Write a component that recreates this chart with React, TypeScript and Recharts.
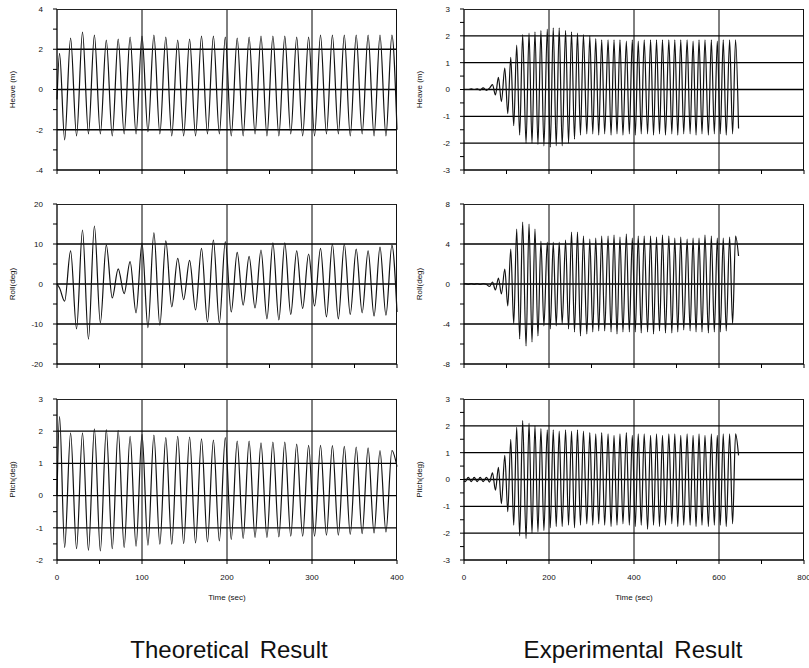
import React from 'react'
import { LineChart, Line, XAxis, YAxis, ReferenceLine } from 'recharts'

// extrema times (sec)
const theoTime = [0, 3, 9, 16, 23, 30, 37, 44, 51, 58, 65, 72, 79, 86, 93, 100, 107, 114, 121, 128, 135, 142, 149, 156, 163, 170, 177, 184, 191, 198, 205, 212, 219, 226, 233, 240, 247, 254, 261, 268, 275, 282, 289, 296, 303, 310, 317, 324, 331, 338, 345, 352, 359, 366, 373, 380, 387, 394, 400]

const theoHeave = [-0.5, 1.8,
  -2.5, 2.55, -2.3, 2.85, -2.2, 2.7, -2.2, 2.45, -2.3, 2.5, -2.2, 2.6, -2.2, 2.65, -2.1, 2.7, -2.2, 2.6,
  -2.3, 2.45, -2.3, 2.5, -2.3, 2.65, -2.2, 2.65, -2.2, 2.6, -2.3, 2.55, -2.3, 2.6, -2.2, 2.65, -2.3, 2.65,
  -2.3, 2.65, -2.2, 2.6, -2.3, 2.6, -2.3, 2.7, -2.2, 2.7, -2.2, 2.7, -2.3, 2.7, -2.2, 2.7, -2.3, 2.7, -2.3, 2.7,
  -2.0]

const theoRoll = [0, -1,
  -4.3, 8.3, -11.2, 13.5, -13.8, 14.5, -9.7, 9.8, -3.5, 3.8, -2.4, 5.6, -7.2, 10.2, -10.9, 12.8, -10.3, 10.8,
  -5.7, 6.4, -3.9, 5.9, -6.5, 8.9, -9.5, 11, -9.7, 10.6, -7, 7.9, -5.3, 6.9, -6, 8.5, -8.7, 10.3,
  -9, 10.3, -7.6, 8.3, -6.1, 7.5, -5.5, 8.9, -8.2, 10, -8.7, 10, -7.6, 8.7, -7.2, 8.3, -8, 9.2, -7.8, 9.7,
  -7]

const theoPitch = [0, 2.45,
  -1.61, 1.95, -1.65, 1.95, -1.7, 2.07, -1.72, 2.05, -1.65, 2.03, -1.61, 1.84, -1.57, 1.9, -1.54, 1.88, -1.51, 1.8,
  -1.51, 1.84, -1.49, 1.82, -1.47, 1.76, -1.44, 1.72, -1.41, 1.8, -1.36, 1.69, -1.33, 1.69, -1.3, 1.64, -1.3, 1.66,
  -1.28, 1.66, -1.26, 1.6, -1.26, 1.56, -1.26, 1.56, -1.23, 1.55, -1.23, 1.53, -1.2, 1.51, -1.18, 1.48, -1.16, 1.4, -1.13, 1.4,
  0.9]

// extrema times (sec)
const expTime = [0, 3, 10, 17, 24, 31, 38, 45, 53, 60, 67,
  74, 81, 88, 96, 103, 110, 117, 124, 131, 138, 146, 153, 160, 167, 174, 181, 188, 196, 203, 210,
  217, 224, 231, 239, 246, 253, 260, 267, 274, 281, 289, 296, 303, 310, 317, 324, 331, 339, 346, 353,
  360, 367, 374, 382, 389, 396, 403, 410, 417, 424, 432, 439, 446, 453, 460, 467, 474, 482, 489, 496,
  503, 510, 517, 525, 532, 539, 546, 553, 560, 567, 575, 582, 589, 596, 603, 610, 617, 625, 632, 639, 646]

const expHeave = [0, 0, 0, 0.02, 0, 0.02, -0.02, 0.06, -0.03, 0.05, 0.18,
  -0.2, 0.45, -0.45, 0.8, -0.9, 1.2, -1.35, 1.65, -1.7, 2.05, -2.0, 2.1, -2.0, 2.15, -2.05, 2.2, -2.1, 2.25, -2.15, 2.3,
  -2.1, 2.3, -2.1, 2.2, -2.0, 2.15, -1.85, 2.1, -1.7, 2.05, -1.65, 2.0, -1.65, 1.9, -1.7, 1.85, -1.65, 1.85, -1.7, 1.85,
  -1.65, 1.85, -1.7, 1.8, -1.65, 1.85, -1.7, 1.8, -1.65, 1.85, -1.65, 1.85, -1.7, 1.85, -1.65, 1.85, -1.7, 1.85, -1.65, 1.85,
  -1.7, 1.85, -1.65, 1.85, -1.65, 1.8, -1.7, 1.85, -1.65, 1.85, -1.7, 1.85, -1.65, 1.8, -1.65, 1.85, -1.7, 1.85, -1.65, 1.85, -1.45]

const expRoll = [0, 0.05, -0.03, 0.05, -0.03, 0.05, -0.05, 0.05, -0.05, -0.25, 0.2,
  -0.6, 0.6, -1.0, 1.5, -2.2, 3.5, -4.0, 5.5, -5.5, 6.2, -6.2, 6.0, -5.8, 5.5, -5.2, 4.3, -4.2, 4.2, -4.5, 4.2,
  -4.2, 4.2, -4.0, 4.4, -4.5, 5.2, -4.8, 5.2, -5.2, 4.8, -5.0, 4.5, -4.8, 4.6, -4.7, 4.8, -4.7, 4.8, -4.8, 4.9,
  -5.0, 4.7, -4.8, 5.0, -4.8, 4.6, -4.8, 4.8, -4.9, 4.8, -4.8, 4.8, -5.0, 4.7, -4.7, 4.9, -4.9, 4.8, -4.9, 4.6,
  -4.8, 4.7, -4.6, 4.5, -4.7, 4.6, -4.8, 4.6, -4.8, 4.9, -4.9, 4.8, -4.8, 4.6, -4.8, 4.6, -4.7, 4.7, -4.0, 4.8, 2.8]

const expPitch = [-0.05, -0.08, 0.08, -0.08, 0.08, -0.08, 0.08, -0.08, 0.08, -0.1, 0.25,
  -0.4, 0.45, -0.9, 0.9, -1.2, 1.5, -1.7, 1.95, -2.1, 2.2, -2.2, 2.1, -2.0, 2.0, -1.95, 1.9, -1.9, 1.85, -1.8, 1.85,
  -1.75, 1.8, -1.75, 1.85, -1.7, 1.8, -1.8, 1.85, -1.7, 1.8, -1.65, 1.75, -1.7, 1.7, -1.65, 1.75, -1.7, 1.7, -1.75, 1.65,
  -1.7, 1.7, -1.65, 1.75, -1.7, 1.65, -1.75, 1.7, -1.7, 1.7, -1.85, 1.65, -1.7, 1.7, -1.75, 1.65, -1.7, 1.7, -1.65, 1.7,
  -1.75, 1.65, -1.7, 1.7, -1.7, 1.65, -1.75, 1.7, -1.7, 1.65, -1.75, 1.7, -1.7, 1.65, -1.7, 1.7, -1.75, 1.7, -1.65, 1.7, 0.9]

// axis ticks
const theoXTicks = [0, 50, 100, 150, 200, 250, 300, 350, 400]
const theoXMajor = [0, 100, 200, 300, 400]
const expXTicks = [0, 100, 200, 300, 400, 500, 600, 700, 800]
const expXMajor = [0, 200, 400, 600, 800]

const heaveTheoTicks = [-4, -3, -2, -1, 0, 1, 2, 3, 4]
const heaveTheoMajor = [-4, -2, 0, 2, 4]
const heaveExpTicks = [-3, -2.5, -2, -1.5, -1, -0.5, 0, 0.5, 1, 1.5, 2, 2.5, 3]
const heaveExpMajor = [-3, -2, -1, 0, 1, 2, 3]
const rollTheoTicks = [-20, -15, -10, -5, 0, 5, 10, 15, 20]
const rollTheoMajor = [-20, -10, 0, 10, 20]
const rollExpTicks = [-8, -6, -4, -2, 0, 2, 4, 6, 8]
const rollExpMajor = [-8, -4, 0, 4, 8]
const pitchTheoTicks = [-2, -1.5, -1, -0.5, 0, 0.5, 1, 1.5, 2, 2.5, 3]
const pitchTheoMajor = [-2, -1, 0, 1, 2, 3]
const pitchExpTicks = [-3, -2.5, -2, -1.5, -1, -0.5, 0, 0.5, 1, 1.5, 2, 2.5, 3]
const pitchExpMajor = [-3, -2, -1, 0, 1, 2, 3]

const tickStyle = { fontSize: 8, fill: '#111' }

interface PanelProps {
  left: number
  top: number
  plotHeight: number
  rightMargin: number
  time: number[]
  values: number[]
  xTicks: number[]
  xMajor: number[]
  yTicks: number[]
  yMajor: number[]
  yLabel: string
  showX: boolean
}

function Panel({ left, top, plotHeight, rightMargin, time, values, xTicks, xMajor, yTicks, yMajor, yLabel, showX }: PanelProps) {
  const data = time.map((t, i) => ({ t, v: values[i] }))
  const xAxisHeight = showX ? 48 : 20
  const xMax = xTicks[xTicks.length - 1]
  const yMin = yTicks[0]
  const yMax = yTicks[yTicks.length - 1]

  return (
    <div style={{ position: 'absolute', left, top }}>
      <LineChart
        width={14 + 43 + 340 + rightMargin}
        height={5 + plotHeight + xAxisHeight}
        data={data}
        margin={{ top: 5, right: rightMargin, bottom: 0, left: 14 }}
      >
        <XAxis
          type="number"
          dataKey="t"
          domain={[0, xMax]}
          ticks={xTicks}
          interval={0}
          height={xAxisHeight}
          tickSize={4}
          tickMargin={10}
          tick={tickStyle}
          tickFormatter={(v: number) => (showX && xMajor.includes(v) ? String(v) : '')}
          axisLine={{ stroke: '#000', strokeWidth: 1.3 }}
          tickLine={{ stroke: '#000' }}
          label={showX ? { value: 'Time (sec)', position: 'insideBottom', offset: 8, style: { fontSize: 8, fill: '#111' } } : undefined}
        />
        <YAxis
          type="number"
          domain={[yMin, yMax]}
          ticks={yTicks}
          interval={0}
          width={43}
          tickSize={4}
          tickMargin={10}
          tick={tickStyle}
          tickFormatter={(v: number) => (yMajor.includes(v) ? String(v) : '')}
          axisLine={{ stroke: '#000', strokeWidth: 1.3 }}
          tickLine={{ stroke: '#000' }}
          label={{ value: yLabel, angle: -90, position: 'insideLeft', offset: -2, style: { textAnchor: 'middle', fontSize: 8, fill: '#111' } }}
        />
        {yMajor.filter((v) => v > yMin && v < yMax).map((v) => (
          <ReferenceLine key={'y' + v} y={v} stroke="#000" strokeWidth={1.3} />
        ))}
        {xMajor.filter((v) => v > 0 && v < xMax).map((v) => (
          <ReferenceLine key={'x' + v} x={v} stroke="#000" strokeWidth={1} />
        ))}
        <Line
          type="monotone"
          dataKey="v"
          stroke="#111"
          strokeWidth={1.2}
          dot={false}
          isAnimationActive={false}
        />
      </LineChart>
      {/* plot frame: top and right edges */}
      <div style={{ position: 'absolute', left: 57, top: 5, width: 340, height: plotHeight, boxSizing: 'border-box', borderTop: '1px solid #222', borderRight: '1px solid #111', pointerEvents: 'none' }} />
    </div>
  )
}

export default function App() {
  return (
    <div style={{ position: 'absolute', left: 0, top: 0, width: 809, height: 668, background: '#fff', fontFamily: '"Liberation Sans", Arial, sans-serif' }}>
      <Panel left={0} top={4} plotHeight={161} rightMargin={10} time={theoTime} values={theoHeave}
        xTicks={theoXTicks} xMajor={theoXMajor} yTicks={heaveTheoTicks} yMajor={heaveTheoMajor} yLabel="Heave (m)" showX={false} />
      <Panel left={407} top={4} plotHeight={161} rightMargin={5} time={expTime} values={expHeave}
        xTicks={expXTicks} xMajor={expXMajor} yTicks={heaveExpTicks} yMajor={heaveExpMajor} yLabel="Heave (m)" showX={false} />
      <Panel left={0} top={199} plotHeight={160} rightMargin={10} time={theoTime} values={theoRoll}
        xTicks={theoXTicks} xMajor={theoXMajor} yTicks={rollTheoTicks} yMajor={rollTheoMajor} yLabel="Roll(deg)" showX={false} />
      <Panel left={407} top={199} plotHeight={160} rightMargin={5} time={expTime} values={expRoll}
        xTicks={expXTicks} xMajor={expXMajor} yTicks={rollExpTicks} yMajor={rollExpMajor} yLabel="Roll(deg)" showX={false} />
      <Panel left={0} top={394} plotHeight={161} rightMargin={10} time={theoTime} values={theoPitch}
        xTicks={theoXTicks} xMajor={theoXMajor} yTicks={pitchTheoTicks} yMajor={pitchTheoMajor} yLabel="Pitch(deg)" showX={true} />
      <Panel left={407} top={394} plotHeight={161} rightMargin={5} time={expTime} values={expPitch}
        xTicks={expXTicks} xMajor={expXMajor} yTicks={pitchExpTicks} yMajor={pitchExpMajor} yLabel="Pitch(deg)" showX={true} />

      <div style={{ position: 'absolute', left: 229, top: 638, transform: 'translateX(-50%)', whiteSpace: 'nowrap', fontSize: 24, lineHeight: '24px', color: '#111', wordSpacing: 4 }}>
        Theoretical Result
      </div>
      <div style={{ position: 'absolute', left: 633, top: 638, transform: 'translateX(-50%)', whiteSpace: 'nowrap', fontSize: 24, lineHeight: '24px', color: '#111', wordSpacing: 4 }}>
        Experimental Result
      </div>
    </div>
  )
}
